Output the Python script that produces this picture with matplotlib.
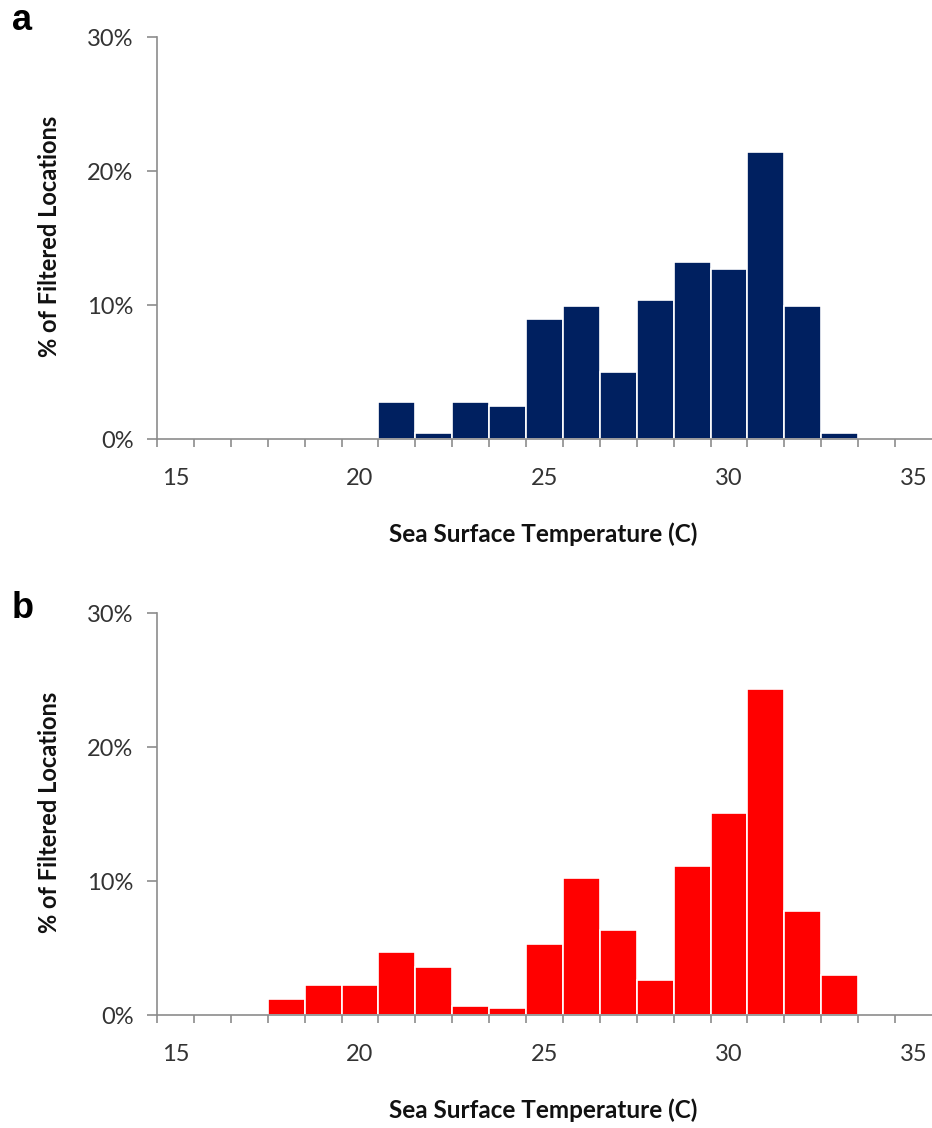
import matplotlib
matplotlib.use("Agg")
import matplotlib.pyplot as plt
from matplotlib.ticker import FixedLocator, PercentFormatter

# SST bins (C) and share of filtered locations (%)
temps_a = [21, 22, 23, 24, 25, 26, 27, 28, 29, 30, 31, 32, 33]
share_a = [2.76, 0.47, 2.76, 2.48, 8.98, 9.95, 5.0, 10.4, 13.18, 12.7, 21.4, 9.95, 0.47]

temps_b = [18, 19, 20, 21, 22, 23, 24, 25, 26, 27, 28, 29, 30, 31, 32, 33]
share_b = [1.17, 2.21, 2.21, 4.70, 3.58, 0.67, 0.50, 5.30, 10.25, 6.34, 2.61,
           11.12, 15.05, 24.33, 7.76, 2.99]

x_labels = [15, 20, 25, 30, 35]
y_ticks = [0, 10, 20, 30]

axis_gray = "#8c8c8c"
text_col = "#333333"
font = "Lato"

W, H = 932, 1128
fig = plt.figure(figsize=(W / 100, H / 100), dpi=100)


def panel(bottom_px, temps, share, color, letter, letter_y):
    left = 157
    ax = fig.add_axes([left / W, 1 - bottom_px / H, 775 / W, 402 / H])
    ax.bar(temps, share, width=1.0, color=color, edgecolor="white", linewidth=1.2)
    ax.set_xlim(14.5, 35.5)
    ax.set_ylim(0, 30)
    for s in ["top", "right"]:
        ax.spines[s].set_visible(False)
    ax.spines["left"].set_color(axis_gray)
    ax.spines["bottom"].set_color(axis_gray)
    ax.spines["left"].set_linewidth(1.2)
    ax.spines["bottom"].set_linewidth(1.2)

    # labels at the integers, tick marks at bin edges
    ax.xaxis.set_major_locator(FixedLocator(x_labels))
    ax.xaxis.set_minor_locator(FixedLocator([t + 0.5 for t in range(14, 35)]))
    ax.tick_params(axis="x", which="major", length=0, pad=21,
                   labelsize=17, labelcolor=text_col)
    ax.tick_params(axis="x", which="minor", length=6, width=1.2,
                   color=axis_gray, direction="out")
    ax.set_yticks(y_ticks)
    ax.yaxis.set_major_formatter(PercentFormatter(decimals=0))
    ax.tick_params(axis="y", length=7, width=1.2, color=axis_gray, pad=10,
                   labelsize=17, labelcolor=text_col)
    for lab in ax.get_xticklabels() + ax.get_yticklabels():
        lab.set_family(font)

    fig.text(543 / W, 1 - (bottom_px + 95) / H, "Sea Surface Temperature (C)",
             ha="center", va="center", fontsize=17.5, fontweight="bold",
             family=font, color="#111111")
    fig.text(50 / W, 1 - (bottom_px - 203) / H, "% of Filtered Locations",
             ha="center", va="center", rotation=90, fontsize=17,
             fontweight="bold", family=font, color="#111111")
    fig.text(12 / W, 1 - letter_y / H, letter, ha="left", va="center",
             fontsize=26, fontweight="bold", family="Liberation Sans")
    return ax


panel(439, temps_a, share_a, "#002060", "a", 20)
panel(1015, temps_b, share_b, "#ff0000", "b", 608)

fig.savefig("out.png", dpi=100, facecolor="white")
